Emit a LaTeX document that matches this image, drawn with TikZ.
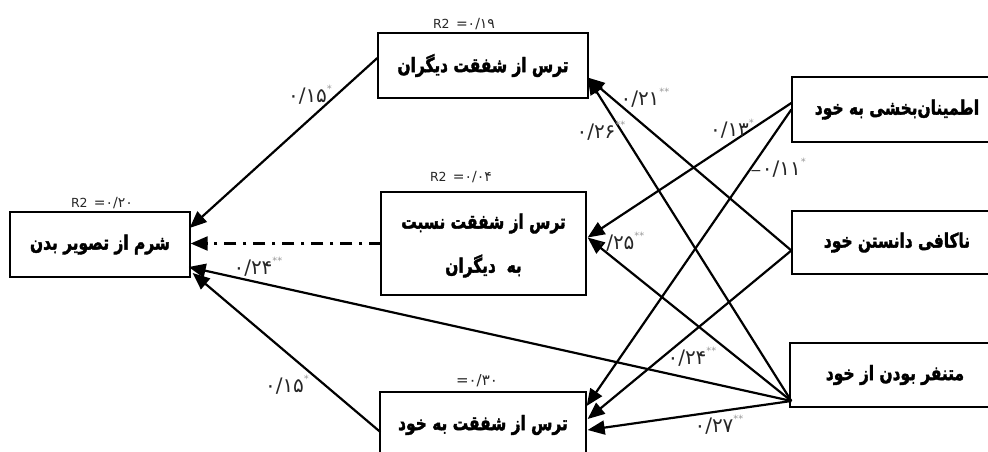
\documentclass[tikz,border=0pt]{standalone}
\usepackage{fontspec}
\setmainfont{DejaVu Sans}
\newfontfamily\fa[Script=Arabic]{DejaVu Sans}
\newfontfamily\fab[Script=Arabic, FakeStretch=0.77, FakeBold=1.8]{DejaVu Sans Bold}
\TeXXeTstate=1
\usetikzlibrary{arrows.meta,calc}
\newcommand\coef[2]{{\fa #1}\raisebox{0.9ex}{\fontsize{10}{10}\selectfont\color{black!40}#2}}
\newcommand\rsq[1]{{\fontsize{12.5}{14}\selectfont R2} {\fontsize{14}{14}\selectfont =\fa #1}}
\begin{document}
\begin{tikzpicture}[x=1pt,y=-1pt,
  box/.style={draw, line width=1.3pt, inner sep=0pt, align=center,
     font=\fab\fontsize{20}{44}\selectfont},
  arr/.style={line width=2.2pt, -{Triangle[length=17pt,width=14pt]}},
  dd/.style={arr, dash pattern=on 12pt off 7pt on 3pt off 7pt},
  lab/.style={inner sep=0pt, font=\fontsize{20}{22}\selectfont, text=black!85}]
\useasboundingbox (0,0) rectangle (988,452);
\clip (0,0) rectangle (988,452);
% boxes
\node[box, minimum width=210pt, minimum height=65pt] (T) at (483,65.5) {\beginR ترس از شفقت دیگران\endR};
\node[box, minimum width=205pt, minimum height=103pt] (M) at (483.5,243.5) {};
\node[font=\fab\fontsize{20}{44}\selectfont, align=center, inner sep=0pt] (Mt) at ($(M.center)+(0,2)$) {\beginR ترس از شفقت نسبت\endR\\\beginR به~~دیگران\endR};
\node[box, minimum width=206pt, minimum height=66pt] (B) at (483,425) {\beginR ترس از شفقت به خود\endR};
\node[box, minimum width=180pt, minimum height=65pt] (L) at (100,244.5) {\beginR شرم از تصویر بدن\endR};
\node[box, minimum width=210pt, minimum height=65pt] (R1) at (897,109.5) {\beginR اطمینان‌بخشی به خود\endR};
\node[box, minimum width=210pt, minimum height=63pt] (R2) at (897,242.5) {\beginR ناکافی دانستن خود\endR};
\node[box, minimum width=210pt, minimum height=64pt] (R3) at (895,375) {\beginR متنفر بودن از خود\endR};
% R2 labels
\node[lab] (rT) at (464,24) {\rsq{۰/۱۹}};
\node[lab] (rM) at (461,177) {\rsq{۰/۰۴}};
\node[lab] (rL) at (102,203) {\rsq{۰/۲۰}};
\node[lab, font=\fontsize{15}{15}\selectfont] (rB) at (477,381) {={\fa ۰/۳۰}};
% anchor points
\coordinate (Tw) at ($(T.west)+(0,-7.5)$);
\coordinate (Te) at ($(T.east)+(-1,12)$);
\coordinate (Me) at ($(M.east)+(1,-6)$);
\coordinate (Mw) at ($(M.west)+(1,0)$);
\coordinate (Bw) at ($(B.west)+(1,7)$);
\coordinate (Be1) at ($(B.east)+(0,-19)$);
\coordinate (Be2) at ($(B.east)+(1,-6)$);
\coordinate (Be3) at ($(B.east)+(1,5)$);
\coordinate (Le1) at ($(L.east)+(-1,-16.5)$);
\coordinate (Le2) at ($(L.east)+(0,-1)$);
\coordinate (Le3) at ($(L.east)+(-2,22.5)$);
\coordinate (Le4) at ($(L.east)+(2,28.5)$);
\coordinate (R1a) at ($(R1.west)+(0,-6.5)$);
\coordinate (R1b) at ($(R1.west)+(0,0)$);
\coordinate (R2a) at ($(R2.west)+(0,8)$);
\coordinate (R3a) at ($(R3.west)+(2,26)$);
% connectors
\draw[arr] (Tw) -- (Le1);
\draw[dd] (Mw) -- (Le2);
\draw[arr] (R3a) -- (Le3);
\draw[arr] (Bw) -- (Le4);
\draw[arr] (R2a) -- (Te);
\draw[arr] (R3a) -- (Te);
\draw[arr] (R1a) -- (Me);
\draw[arr] (R3a) -- (Me);
\draw[arr] (R1b) -- (Be1);
\draw[arr] (R2a) -- (Be2);
\draw[arr] (R3a) -- (Be3);
% coefficients
\node[lab] (c1) at (310,95) {\coef{۰/۱۵}{*}};
\node[lab] (c2) at (258,267) {\coef{۰/۲۴}{**}};
\node[lab] (c3) at (287,385) {\coef{۰/۱۵}{*}};
\node[lab] (c4) at (645,98) {\coef{۰/۲۱}{**}};
\node[lab] (c5) at (601,131) {\coef{۰/۲۶}{**}};
\node[lab] (c6) at (732,129) {\coef{۰/۱۳}{*}};
\node[lab] (c7) at (778,168) {{\fontsize{14}{14}\selectfont −}\coef{۰/۱۱}{*}};
\node[lab] (c8) at (620,242) {\coef{۰/۲۵}{**}};
\node[lab] (c9) at (692,357) {\coef{۰/۲۴}{**}};
\node[lab] (c10) at (719,425) {\coef{۰/۲۷}{**}};
\end{tikzpicture}
\end{document}
